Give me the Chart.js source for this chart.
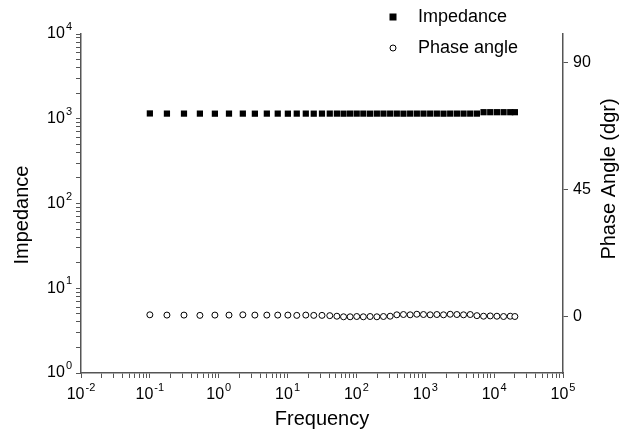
<!DOCTYPE html>
<html>
<head>
<meta charset="utf-8">
<script src="https://cdn.jsdelivr.net/npm/chart.js@4.4.0/dist/chart.umd.min.js"></script>
<style>
  html, body { margin: 0; padding: 0; background: #fff; }
</style>
</head>
<body>
<canvas id="canvas" width="629" height="433"></canvas>
<script>
// values
var frequency = [0.1, 0.177, 0.313, 0.533, 0.88, 1.41, 2.24, 3.35, 5.0, 7.2,
  10.1, 13.6, 18.4, 24, 31.6, 41, 52, 65, 81, 101,
  126, 158, 198, 247, 309, 386, 482, 603, 754, 942,
  1178, 1472, 1840, 2300, 2875, 3594, 4492, 5615, 7019, 8774,
  10967, 13709, 17136, 20000];
var impedance = [1155, 1150, 1150, 1150, 1148, 1150, 1150, 1148, 1150, 1150,
  1148, 1150, 1150, 1148, 1150, 1150, 1150, 1148, 1150, 1150,
  1150, 1148, 1150, 1150, 1150, 1150, 1148, 1150, 1150, 1150,
  1150, 1150, 1148, 1150, 1150, 1150, 1150, 1150, 1195, 1195,
  1195, 1195, 1195, 1195];
var phaseAngle = [0.6, 0.5, 0.5, 0.4, 0.5, 0.5, 0.6, 0.5, 0.5, 0.5,
  0.5, 0.4, 0.5, 0.4, 0.4, 0.3, 0.1, -0.1, -0.1, 0.0,
  -0.1, 0.0, -0.1, 0.0, 0.1, 0.6, 0.7, 0.6, 0.8, 0.7,
  0.6, 0.7, 0.6, 0.8, 0.7, 0.6, 0.7, 0.3, 0.1, 0.2,
  0.1, 0.0, 0.1, 0.0];
var phaseTicks = [0, 45, 90];
var impedanceRange = [1, 10000];
var phaseRange = [-20, 100];
var frequencyRange = [0.01, 100000];
var leftTitle = 'Impedance';
var rightTitle = 'Phase Angle (dgr)';

var FONT = "'Liberation Sans', Arial, Helvetica, sans-serif";
var AXIS = '#555';

function isPower(v) {
  var l = Math.log10(v);
  return Math.abs(l - Math.round(l)) < 1e-6;
}

// keep only 1..9 x 10^n ticks
function cleanLogTicks(scale) {
  scale.ticks = scale.ticks.filter(function(t) {
    var m = t.value / Math.pow(10, Math.floor(Math.log10(t.value) + 1e-9));
    return Math.abs(m - Math.round(m)) < 1e-6;
  });
}

// "10" with a raised exponent
function drawPower(ctx, v, x, y, anchor) {
  var e = String(Math.round(Math.log10(v)));
  ctx.font = '16px ' + FONT;
  var w1 = ctx.measureText('10').width;
  ctx.font = '11px ' + FONT;
  var w2 = ctx.measureText(e).width + 1;
  var left = anchor === 'right' ? x - w1 - w2 : x - (w1 + w2) / 2;
  ctx.textAlign = 'left';
  ctx.textBaseline = 'middle';
  ctx.font = '16px ' + FONT;
  ctx.fillText('10', left, y);
  ctx.font = '11px ' + FONT;
  ctx.fillText(e, left + w1 + 1, y - 7);
}

var labelsPlugin = {
  id: 'powerLabels',
  afterDraw: function(chart) {
    var ctx = chart.ctx;
    var sx = chart.scales.x, sy = chart.scales.y;
    ctx.save();
    ctx.fillStyle = '#000';
    sx.ticks.forEach(function(t) {
      if (isPower(t.value)) drawPower(ctx, t.value, sx.getPixelForValue(t.value), sx.top + 22, 'center');
    });
    sy.ticks.forEach(function(t) {
      if (isPower(t.value)) drawPower(ctx, t.value, sy.right - 9, sy.getPixelForValue(t.value), 'right');
    });

    // axis titles, both read bottom to top
    ctx.font = '20px ' + FONT;
    ctx.textAlign = 'center';
    ctx.textBaseline = 'middle';
    ctx.save();
    ctx.translate(22, 215);
    ctx.rotate(-Math.PI / 2);
    ctx.fillText(leftTitle, 0, 0);
    ctx.restore();
    ctx.save();
    ctx.translate(609, 179);
    ctx.rotate(-Math.PI / 2);
    ctx.fillText(rightTitle, 0, 0);
    ctx.restore();

    // legend
    ctx.font = '18px ' + FONT;
    ctx.textAlign = 'left';
    chart.data.datasets.forEach(function(ds, i) {
      var y = 17 + i * 31, x = 393;
      ctx.beginPath();
      if (ds.pointStyle === 'rect') {
        ctx.fillStyle = '#000';
        ctx.fillRect(x - 3.5, y - 3.5, 7, 7);
      } else {
        ctx.arc(x, y, 3, 0, Math.PI * 2);
        ctx.fillStyle = '#fff';
        ctx.fill();
        ctx.lineWidth = 1;
        ctx.strokeStyle = '#000';
        ctx.stroke();
      }
      ctx.fillStyle = '#000';
      ctx.fillText(ds.label, 418, y);
    });
    ctx.restore();
  }
};

var ctx = document.getElementById('canvas').getContext('2d');
var chart = new Chart(ctx, {
  type: 'scatter',
  data: {
    datasets: [
      {
        label: 'Impedance',
        data: frequency.map(function(f, i) { return {x: f, y: impedance[i]}; }),
        pointStyle: 'rect',
        pointRadius: 4.4,
        backgroundColor: '#000',
        borderColor: '#000',
        borderWidth: 0,
        yAxisID: 'y'
      },
      {
        label: 'Phase angle',
        data: frequency.map(function(f, i) { return {x: f, y: phaseAngle[i]}; }),
        pointStyle: 'circle',
        pointRadius: 3,
        backgroundColor: '#fff',
        borderColor: '#000',
        borderWidth: 1,
        yAxisID: 'y1'
      }
    ]
  },
  options: {
    responsive: false,
    animation: false,
    layout: { padding: { top: 34, left: 0, right: 0, bottom: 0 } },
    plugins: {
      legend: { display: false },
      tooltip: { enabled: false }
    },
    scales: {
      x: {
        type: 'logarithmic',
        min: frequencyRange[0],
        max: frequencyRange[1],
        afterBuildTicks: cleanLogTicks,
        afterFit: function(s) { s.height = 60; },
        border: { color: AXIS, width: 1.5 },
        grid: { drawOnChartArea: false, drawTicks: true, tickLength: 5, color: AXIS },
        ticks: { autoSkip: false, maxRotation: 0, callback: function() { return ''; } },
        title: { display: true, text: 'Frequency', color: '#000', font: { family: FONT, size: 20 }, padding: { top: 0, bottom: 2 } }
      },
      y: {
        type: 'logarithmic',
        position: 'left',
        min: impedanceRange[0],
        max: impedanceRange[1],
        afterBuildTicks: cleanLogTicks,
        afterFit: function(s) { s.width = 81; },
        border: { color: AXIS, width: 1.5 },
        grid: { drawOnChartArea: false, drawTicks: true, tickLength: 5, color: AXIS },
        ticks: { autoSkip: false, callback: function() { return ''; } }
      },
      y1: {
        type: 'linear',
        position: 'right',
        min: phaseRange[0],
        max: phaseRange[1],
        afterBuildTicks: function(s) { s.ticks = phaseTicks.map(function(v) { return {value: v}; }); },
        afterFit: function(s) { s.width = 66; },
        border: { color: AXIS, width: 1.5 },
        grid: { drawOnChartArea: false, drawTicks: true, tickLength: 5, color: AXIS },
        ticks: { padding: 5, color: '#000', font: { family: FONT, size: 16 } }
      }
    }
  },
  plugins: [labelsPlugin]
});
</script>
</body>
</html>
